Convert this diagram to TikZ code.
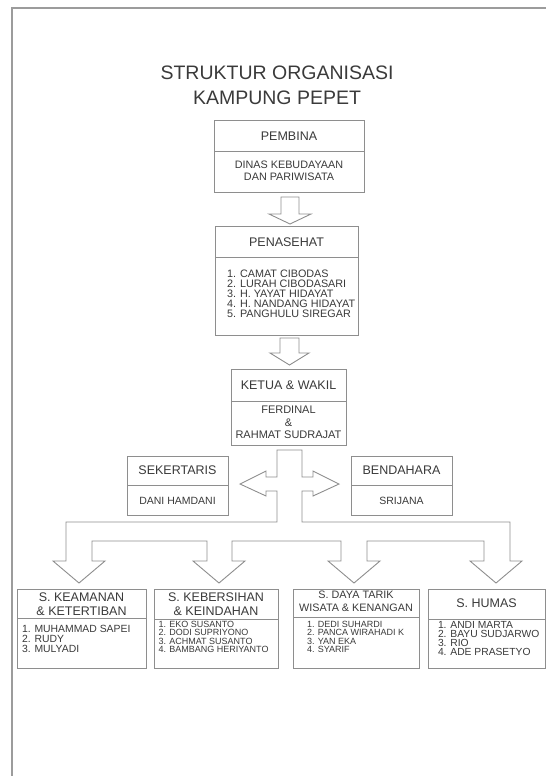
\documentclass[tikz,border=0pt]{standalone}
\usepackage{fontspec}
\setmainfont{Liberation Sans}
\definecolor{lc}{HTML}{8E8E8E}
\definecolor{tc}{HTML}{3A3A3A}
\definecolor{bc}{HTML}{9C9C9C}
\tikzset{
 boxst/.style={draw=lc, line width=0.9pt, fill=white, inner sep=0pt, outer sep=0pt, anchor=north west},
 divl/.style={draw=lc, line width=0.9pt},
 blk/.style={draw=lc, line width=0.9pt, fill=white, line join=miter},
 tl/.style={inner sep=0pt, outer sep=0pt, text=tc},
 pageline/.style={draw=bc, line width=1.2pt}
}
\newcommand\Bx[5]{\pgfmathsetmacro\bw{#4-#2}\pgfmathsetmacro\bh{#5-#3}\node[boxst, minimum width=\bw pt, minimum height=\bh pt] (#1) at (#2,#3) {};}
\newcommand\Dv[2]{\draw[divl] (#1.west |- 0,#2) -- (#1.east |- 0,#2);}
\newcommand\Tc[5]{\pgfmathsetmacro\yb{#3+0.358*#4}\node[tl, anchor=base, font=\fontsize{#4}{#4}\selectfont] (#1) at (#2,\yb) {#5};}
\newcommand\Tl[5]{\pgfmathsetmacro\yb{#3+0.358*#4}\node[tl, anchor=base west, font=\fontsize{#4}{#4}\selectfont] (#1) at (#2,\yb) {#5};}
\begin{document}
\begin{tikzpicture}[x=1pt,y=-1pt]
\useasboundingbox (0,0) rectangle (546,776);
\draw[pageline] (12,776) -- (12,8) -- (546,8);

% title
\Tc{title1}{277}{72.5}{19.5}{STRUKTUR ORGANISASI}
\Tc{title2}{277}{97.5}{19.5}{KAMPUNG PEPET}

% boxes
\Bx{pembina}{214}{120}{364}{192} \Dv{pembina}{151}
\Bx{penasehat}{215}{226}{358}{335} \Dv{penasehat}{257}
\Bx{ketua}{231}{369}{346}{445} \Dv{ketua}{401}
\Bx{sekertaris}{127}{456}{228}{515} \Dv{sekertaris}{485}
\Bx{bendahara}{351}{456}{452}{515} \Dv{bendahara}{485}
\Bx{keamanan}{17}{589}{146}{668} \Dv{keamanan}{618}
\Bx{kebersihan}{154}{589}{278}{668} \Dv{kebersihan}{619}
\Bx{wisata}{293}{589}{419}{668} \Dv{wisata}{617}
\Bx{humas}{428}{589}{545}{668} \Dv{humas}{619}

% hollow arrows
\draw[blk] (281,197) -- (299,197) -- (299,214) -- (311,214) -- (290,224) -- (269,214) -- (281,214) -- cycle;
\draw[blk] (280,338) -- (299,338) -- (299,353) -- (309,353) -- (289.5,365) -- (270,353) -- (280,353) -- cycle;
\draw[blk] (277,450) -- (277,477) -- (266,477) -- (266,471) -- (240,484) -- (266,496) -- (266,491) -- (277,491)
 -- (277,522) -- (66,522) -- (66,561) -- (53,561) -- (79,583) -- (105,561) -- (92,561) -- (92,541)
 -- (207,541) -- (207,561) -- (193,561) -- (219,583) -- (245,561) -- (232,561) -- (232,541)
 -- (341,541) -- (341,561) -- (328,561) -- (354,583) -- (380,561) -- (367,561) -- (367,541)
 -- (484,541) -- (484,561) -- (470,561) -- (496,583) -- (522,561) -- (510,561) -- (510,522)
 -- (302,522) -- (302,491) -- (313,491) -- (313,496) -- (339,484) -- (313,471) -- (313,477) -- (302,477)
 -- (302,450) -- cycle;

% texts
\Tc{pemh}{289}{136}{12.5}{PEMBINA}
\Tc{pemb1}{289}{165}{10.8}{DINAS KEBUDAYAAN}
\Tc{pemb2}{289}{177}{10.8}{DAN PARIWISATA}

\Tc{penh}{286.5}{242}{12.5}{PENASEHAT}
\Tl{pen1}{227}{274}{10.8}{1. CAMAT CIBODAS}
\Tl{pen2}{227}{284}{10.8}{2. LURAH CIBODASARI}
\Tl{pen3}{227}{294}{10.8}{3. H. YAYAT HIDAYAT}
\Tl{pen4}{227}{304}{10.8}{4. H. NANDANG HIDAYAT}
\Tl{pen5}{227}{313.5}{10.8}{5. PANGHULU SIREGAR}

\Tc{kth}{288.5}{385}{12.5}{KETUA \& WAKIL}
\Tc{kt1}{288.5}{410}{11}{FERDINAL}
\Tc{kt2}{288.5}{422.5}{11}{\&}
\Tc{kt3}{288.5}{435}{11}{RAHMAT SUDRAJAT}

\Tc{sekh}{177.5}{470.5}{12.5}{SEKERTARIS}
\Tc{sekb}{177.5}{500.5}{10.5}{DANI HAMDANI}
\Tc{benh}{401.5}{470.5}{12.5}{BENDAHARA}
\Tc{benb}{401.5}{500.5}{10.5}{SRIJANA}

\Tc{kah1}{81.5}{597}{12.5}{S. KEAMANAN}
\Tc{kah2}{81.5}{611}{12.5}{\& KETERTIBAN}
\Tl{ka1}{22}{629}{10.4}{1. MUHAMMAD SAPEI}
\Tl{ka2}{22}{639}{10.4}{2. RUDY}
\Tl{ka3}{22}{649}{10.4}{3. MULYADI}

\Tc{keh1}{216}{597}{12.5}{S. KEBERSIHAN}
\Tc{keh2}{216}{611}{12.5}{\& KEINDAHAN}
\Tl{ke1}{158.5}{624}{9}{1. EKO SUSANTO}
\Tl{ke2}{158.5}{632.5}{9}{2. DODI SUPRIYONO}
\Tl{ke3}{158.5}{641}{9}{3. ACHMAT SUSANTO}
\Tl{ke4}{158.5}{649.5}{9}{4. BAMBANG HERIYANTO}

\Tc{wih1}{356}{595}{10.8}{S. DAYA TARIK}
\Tc{wih2}{356}{607.5}{10.8}{WISATA \& KENANGAN}
\Tl{wi1}{307}{624}{9}{1. DEDI SUHARDI}
\Tl{wi2}{307}{632.5}{9}{2. PANCA WIRAHADI K}
\Tl{wi3}{307}{641}{9}{3. YAN EKA}
\Tl{wi4}{307}{649.5}{9}{4. SYARIF}

\Tc{huh}{486.5}{603}{12.5}{S. HUMAS}
\Tl{hu1}{438}{625}{10.3}{1. ANDI MARTA}
\Tl{hu2}{438}{634}{10.3}{2. BAYU SUDJARWO}
\Tl{hu3}{438}{643}{10.3}{3. RIO}
\Tl{hu4}{438}{652}{10.3}{4. ADE PRASETYO}
\end{tikzpicture}
\end{document}
